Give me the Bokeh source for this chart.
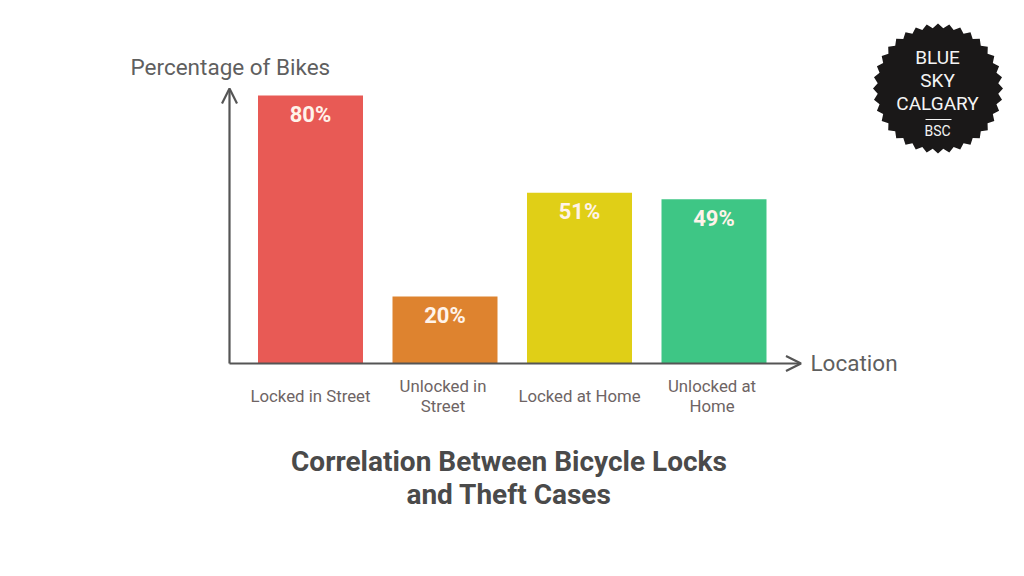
import numpy as np
from bokeh.core.properties import value
from bokeh.embed import file_html
from bokeh.resources import INLINE
from bokeh.plotting import figure
from bokeh.models import ColumnDataSource, Range1d, Arrow, OpenHead, LabelSet, Label

categories = ["Locked in Street", "Unlocked in\nStreet", "Locked at Home", "Unlocked at\nHome"]
values = [80, 20, 51, 49]
value_labels = ["80%", "20%", "51%", "49%"]
colors = ["#E85A55", "#DE832F", "#E0CF17", "#3EC685"]
x_title = "Location"
y_title = "Percentage of Bikes"
chart_title = ["Correlation Between Bicycle Locks", "and Theft Cases"]
badge_lines = ["BLUE", "SKY", "CALGARY", "BSC"]

W, H = 1008, 560
# data scale: 134.5 px per category, 3.35 px per percent; origin at page (310, 363)
PX, PY = 134.5, 3.35
def X(px): return (px - 310) / PX
def Y(py): return (363 - py) / PY

p = figure(width=W, height=H, output_backend="svg", toolbar_location=None,
           x_range=Range1d(X(0), X(W)), y_range=Range1d(Y(H), Y(0)),
           x_axis_type=None, y_axis_type=None, min_border=0,
           background_fill_color="white", border_fill_color="white", outline_line_color=None)
p.grid.visible = False

idx = list(range(len(categories)))
src = ColumnDataSource(dict(x=idx, top=values, color=colors, label=value_labels))
p.vbar(x="x", top="top", bottom=0, width=105 / PX, fill_color="color", line_color=None, source=src)

AX = "#555555"
for (x0, y0, x1, y1) in [(X(229), 0, X(800.5), 0), (X(229), 0, X(229), Y(88))]:
    p.add_layout(Arrow(x_start=x0, y_start=y0, x_end=x1, y_end=y1, line_color=AX, line_width=2.2,
                       end=OpenHead(size=15, line_color=AX, line_width=2.2)))

p.add_layout(LabelSet(x="x", y="top", text="label", source=src, y_offset=-19,
                      text_align="center", text_baseline="middle", text_color="#FFF3EA",
                      text_font=value("Roboto"), text_font_style="bold", text_font_size="22px"))

# category names, one row per printed line, centred under the bars
lx, lt, lo, lxo = [], [], [], []
for i, c in zip(idx, categories):
    parts = c.split("\n")
    for j, part in enumerate(parts):
        lx.append(i)
        lt.append(part)
        lo.append(-32 - 20 * (j - (len(parts) - 1) / 2))
        lxo.append(-2 if len(parts) > 1 else 0)
cat_src = ColumnDataSource(dict(x=lx, y=[0] * len(lx), text=lt, off=lo, xoff=lxo))
p.add_layout(LabelSet(x="x", y="y", text="text", y_offset="off", x_offset="xoff", source=cat_src,
                      text_align="center", text_baseline="middle", text_color="#6E6464",
                      text_font=value("Roboto"), text_font_size="16.8px"))

def txt(px, py, s, size, color="#5F5F5F", style="normal", font="Roboto", align="center"):
    p.add_layout(Label(x=X(px), y=Y(py), text=s, text_align=align, text_baseline="middle",
                       text_color=color, text_font=font, text_font_style=style,
                       text_font_size=f"{size}px"))

txt(130, 66, y_title, 22.5, align="left")
txt(810, 362, x_title, 22.5, align="left")
txt(508.5, 460.5, chart_title[0], 28, "#4A4A4A", "bold")
txt(508.5, 493.5, chart_title[1], 28, "#4A4A4A", "bold")

# badge
n = 36
ang = np.linspace(0, 2 * np.pi, 2 * n, endpoint=False)
rad = np.where(np.arange(2 * n) % 2 == 0, 65, 60.5)
p.patch(X(937.5 + rad * np.cos(ang)), Y(88 + rad * np.sin(ang)), fill_color="#1A1818", line_color=None)
for s, py, size in zip(badge_lines, [57, 80, 103, 130], [19, 19, 19, 14]):
    txt(937, py, s, size, "#F4F4F4")
p.line(X(np.array([925, 951])), Y(np.array([119, 119])), line_color="#F4F4F4", line_width=1.2)

open("out.html", "w").write(file_html(p, INLINE))
